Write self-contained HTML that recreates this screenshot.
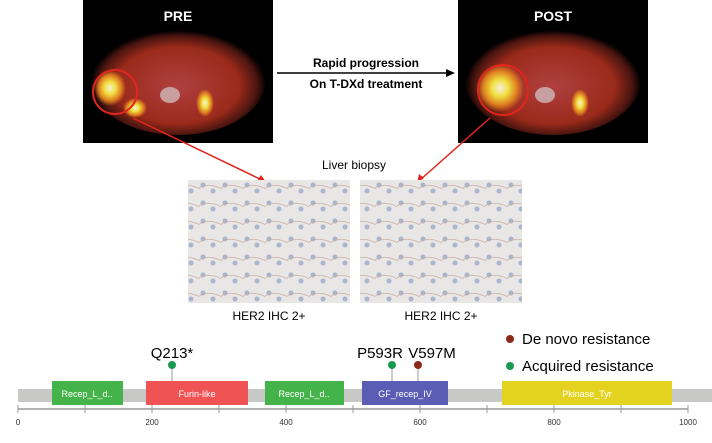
<!DOCTYPE html>
<html><head><style>
body{margin:0;background:#fff;width:712px;height:438px;overflow:hidden;font-family:"Liberation Sans",sans-serif}
</style></head><body>
<svg width="712" height="438" xmlns="http://www.w3.org/2000/svg" font-family="Liberation Sans, sans-serif">
<defs>
<radialGradient id="body" cx="50%" cy="55%" r="50%">
<stop offset="0" stop-color="#b04040"/><stop offset="0.7" stop-color="#9a2a1a"/><stop offset="0.9" stop-color="#4a1510"/><stop offset="1" stop-color="#000"/>
</radialGradient>
<radialGradient id="hot"><stop offset="0" stop-color="#f4f0e0"/><stop offset="0.35" stop-color="#f0e040"/><stop offset="0.7" stop-color="#e08020"/><stop offset="1" stop-color="#e08020" stop-opacity="0"/></radialGradient>
<pattern id="ihc" width="22" height="18" patternUnits="userSpaceOnUse">
<rect width="22" height="18" fill="#e9e6e6"/><circle cx="5" cy="5" r="2.5" fill="#a8b4cc"/><circle cx="15" cy="11" r="2.5" fill="#aab6ce"/><path d="M0 9 Q8 2 22 8" stroke="#c9b0a0" fill="none" stroke-width="0.8"/>
</pattern>
</defs>
<!-- PRE -->
<rect x="83" y="0" width="190" height="143" fill="#000"/>
<ellipse cx="178" cy="80" rx="88" ry="55" fill="url(#body)"/>
<ellipse cx="110" cy="88" rx="16" ry="18" fill="url(#hot)"/>
<ellipse cx="135" cy="108" rx="12" ry="10" fill="url(#hot)"/>
<ellipse cx="205" cy="103" rx="9" ry="14" fill="url(#hot)"/>
<ellipse cx="170" cy="95" rx="10" ry="8" fill="#c9a0a0"/>
<circle cx="115" cy="92" r="22" fill="none" stroke="#e0261e" stroke-width="2"/>
<text x="178" y="21" fill="#fff" font-size="14" font-weight="bold" text-anchor="middle">PRE</text>
<!-- POST -->
<rect x="458" y="0" width="190" height="143" fill="#000"/>
<ellipse cx="553" cy="80" rx="88" ry="55" fill="url(#body)"/>
<ellipse cx="500" cy="88" rx="24" ry="24" fill="url(#hot)"/>
<ellipse cx="580" cy="103" rx="9" ry="14" fill="url(#hot)"/>
<ellipse cx="545" cy="95" rx="10" ry="8" fill="#c9a0a0"/>
<circle cx="503" cy="90" r="25" fill="none" stroke="#e0261e" stroke-width="2"/>
<text x="553" y="21" fill="#fff" font-size="14" font-weight="bold" text-anchor="middle">POST</text>
<!-- arrow -->
<line x1="277" y1="73" x2="448" y2="73" stroke="#000" stroke-width="1.5"/>
<polygon points="455,73 446,69 446,77" fill="#000"/>
<text x="366" y="67" font-size="12" font-weight="bold" text-anchor="middle">Rapid progression</text>
<text x="366" y="88" font-size="12" font-weight="bold" text-anchor="middle">On T-DXd treatment</text>
<!-- red arrows -->
<line x1="133" y1="118" x2="262" y2="180" stroke="#e0261e" stroke-width="1.5"/>
<polygon points="266,182 257,181 261,175" fill="#e0261e"/>
<line x1="490" y1="118" x2="420" y2="180" stroke="#e0261e" stroke-width="1.5"/>
<polygon points="417,183 419,174 424,178" fill="#e0261e"/>
<text x="354" y="169" font-size="12" text-anchor="middle">Liver biopsy</text>
<rect x="188" y="180" width="162" height="123" fill="url(#ihc)"/>
<rect x="360" y="180" width="162" height="123" fill="url(#ihc)"/>
<text x="269" y="320" font-size="12" text-anchor="middle">HER2 IHC 2+</text>
<text x="441" y="320" font-size="12" text-anchor="middle">HER2 IHC 2+</text>
<!-- protein -->
<rect x="18" y="389" width="694" height="13" fill="#c8c8c6"/>
<line x1="172" y1="366" x2="172" y2="386" stroke="#999"/>
<line x1="392" y1="366" x2="392" y2="386" stroke="#999"/>
<line x1="418" y1="366" x2="418" y2="386" stroke="#999"/>
<g font-size="9" fill="#fff" text-anchor="middle">
<rect x="52" y="381" width="71" height="24" fill="#44b44a"/><text x="87" y="397">Recep_L_d..</text>
<rect x="146" y="381" width="102" height="24" fill="#ef5354"/><text x="197" y="397">Furin-like</text>
<rect x="265" y="381" width="79" height="24" fill="#44b44a"/><text x="304" y="397">Recep_L_d..</text>
<rect x="362" y="381" width="86" height="24" fill="#5a5db3"/><text x="405" y="397">GF_recep_IV</text>
<rect x="502" y="381" width="170" height="24" fill="#e3d320"/><text x="587" y="397">Pkinase_Tyr</text>
</g>
<circle cx="172" cy="365" r="4" fill="#1a9a50"/>
<circle cx="392" cy="365" r="4" fill="#1a9a50"/>
<circle cx="418" cy="365" r="4" fill="#8c2a1a"/>
<text x="172" y="358" font-size="15" text-anchor="middle">Q213*</text>
<text x="380" y="358" font-size="15" text-anchor="middle">P593R</text>
<text x="432" y="358" font-size="15" text-anchor="middle">V597M</text>
<circle cx="510" cy="339" r="4" fill="#8c2a1a"/>
<circle cx="510" cy="366" r="4" fill="#1a9a50"/>
<text x="522" y="344" font-size="15">De novo resistance</text>
<text x="522" y="371" font-size="15">Acquired resistance</text>
<!-- axis -->
<line x1="18" y1="409" x2="688" y2="409" stroke="#999" stroke-width="1.5"/>
<g stroke="#999">
<line x1="18" y1="405" x2="18" y2="413"/><line x1="85" y1="405" x2="85" y2="413"/><line x1="152" y1="405" x2="152" y2="413"/><line x1="219" y1="405" x2="219" y2="413"/><line x1="286" y1="405" x2="286" y2="413"/><line x1="353" y1="405" x2="353" y2="413"/><line x1="420" y1="405" x2="420" y2="413"/><line x1="487" y1="405" x2="487" y2="413"/><line x1="554" y1="405" x2="554" y2="413"/><line x1="621" y1="405" x2="621" y2="413"/><line x1="688" y1="405" x2="688" y2="413"/>
</g>
<g font-size="8" text-anchor="middle" fill="#333">
<text x="18" y="425">0</text><text x="152" y="425">200</text><text x="286" y="425">400</text><text x="420" y="425">600</text><text x="554" y="425">800</text><text x="688" y="425">1000</text>
</g>
</svg>
</body></html>
